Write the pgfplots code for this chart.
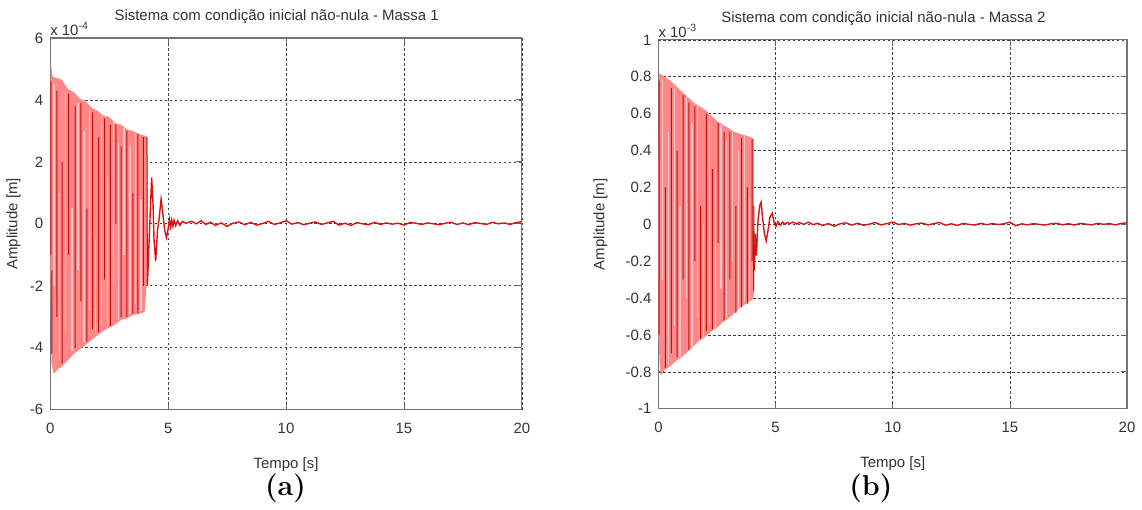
\documentclass[border=0pt]{standalone}
\usepackage{fontspec}
\usepackage{pgfplots}
\pgfplotsset{compat=1.18}
\newfontfamily\arial{Liberation Sans}
\definecolor{envred}{RGB}{255,135,135}
\definecolor{lightstreak}{RGB}{255,195,195}
\definecolor{streak}{RGB}{190,15,15}
\definecolor{noisered}{RGB}{215,20,20}

\pgfplotsset{
  matlab/.style={
    scale only axis,
    anchor=south west,
    xmin=0, xmax=20,
    xtick={0,5,10,15,20},
    tick align=inside,
    major tick length=3pt,
    grid=major,
    unbounded coords=jump,
    major grid style={black!75, line width=0.35pt, dash pattern=on 1.2pt off 1.3pt},
    axis line style={black!55, line width=0.6pt},
    every tick/.style={black!60, line width=0.4pt},
    tick label style={font=\arial\fontsize{7.5}{9}\selectfont, text=black!80},
    xticklabel style={yshift=-3pt},
    /pgf/number format/assume math mode=true,
    label style={font=\arial\fontsize{7.5}{9}\selectfont, text=black!80},
    title style={font=\arial\fontsize{7.5}{9}\selectfont, text=black!80, at={(0.48,1)}, anchor=south, yshift=-2.5pt},
    xlabel style={at={(axis description cs:0.5,0)}, anchor=center, yshift=-27.5pt},
    xlabel={Tempo [s]},
    ylabel={Amplitude [m]},
  }
}

\begin{document}
\begin{tikzpicture}[x=1pt,y=1pt]
\path (0,0) rectangle (571,254);

% ---------- Massa 1 ----------
\begin{axis}[matlab,
  at={(23.5pt,48.5pt)}, width=236.5pt, height=186.5pt,
  ymin=-6, ymax=6, ytick={-6,-4,...,6},
  ylabel style={at={(axis description cs:-0.048,0.5)}, anchor=south},
  title={Sistema com condição inicial não-nula - Massa 1},
  after end axis/.append code={
    \node[anchor=south west, font=\arial\fontsize{7.5}{9}\selectfont, text=black!80, inner sep=1pt]
      at (rel axis cs:-0.005,1) {x 10\textsuperscript{-4}};
  },
]
% envelope of the fast oscillation
\addplot[draw=none, fill=envred] coordinates {
 (0.00,1.5) (0.02,5.15) (0.10,4.75) (0.30,4.70) (0.50,4.65) (0.75,4.35) (1.00,4.25)
 (1.25,4.05) (1.50,3.95) (1.75,3.75) (2.00,3.65) (2.25,3.50) (2.50,3.45) (2.75,3.25)
 (3.00,3.20) (3.25,3.05) (3.50,3.00) (3.75,2.90) (4.00,2.85) (4.12,2.80)
 (4.13,-2.0) (4.08,-2.0) (4.00,-2.85) (3.75,-2.90) (3.50,-2.95) (3.25,-3.05)
 (3.00,-3.10) (2.75,-3.25) (2.50,-3.35) (2.25,-3.45) (2.00,-3.60) (1.75,-3.75)
 (1.50,-3.90) (1.25,-4.05) (1.00,-4.20) (0.75,-4.40) (0.50,-4.60) (0.30,-4.70)
 (0.15,-4.85) (0.05,-4.50) (0.00,-1.0)
} -- cycle;
% lighter gaps inside the band
\addplot[lightstreak, line width=0.6pt] coordinates {
 (0.16,4.5) (0.16,-2.0) (0.16,nan)
 (0.40,-4.4) (0.40,1.0) (0.40,nan)
 (0.65,4.3) (0.65,-3.5) (0.65,nan)
 (0.92,-4.1) (0.92,0.5) (0.92,nan)
 (1.18,3.9) (1.18,-1.5) (1.18,nan)
 (1.43,-3.8) (1.43,3.0) (1.43,nan)
 (1.68,3.7) (1.68,-2.8) (1.68,nan)
 (1.93,-3.5) (1.93,-0.5) (1.93,nan)
 (2.18,3.5) (2.18,-3.2) (2.18,nan)
 (2.43,-3.3) (2.43,1.5) (2.43,nan)
 (2.67,3.3) (2.67,-2.0) (2.67,nan)
 (2.90,-3.1) (2.90,2.6) (2.90,nan)
 (3.13,3.1) (3.13,-1.0) (3.13,nan)
 (3.38,-2.9) (3.38,2.5) (3.38,nan)
 (3.62,2.9) (3.62,-2.6) (3.62,nan)
 (3.85,-2.8) (3.85,0.8)
};
% dark streaks
\addplot[streak, line width=0.5pt] coordinates {
 (0.03,4.6) (0.03,-1.0) (0.03,nan)
 (0.07,-1.5) (0.07,-4.2) (0.07,nan)
 (0.28,4.3) (0.28,-3.0) (0.28,nan)
 (0.50,-4.5) (0.50,2.0) (0.50,nan)
 (0.78,4.2) (0.78,-1.0) (0.78,nan)
 (1.05,-4.0) (1.05,3.8) (1.05,nan)
 (1.30,3.9) (1.30,-2.5) (1.30,nan)
 (1.55,-3.8) (1.55,0.5) (1.55,nan)
 (1.80,3.6) (1.80,-3.4) (1.80,nan)
 (2.05,-3.5) (2.05,2.8) (2.05,nan)
 (2.30,3.4) (2.30,-1.8) (2.30,nan)
 (2.55,-3.3) (2.55,3.2) (2.55,nan)
 (2.78,3.2) (2.78,0.0) (2.78,nan)
 (3.00,-3.0) (3.00,2.5) (3.00,nan)
 (3.25,3.0) (3.25,-3.0) (3.25,nan)
 (3.50,-2.9) (3.50,1.0) (3.50,nan)
 (3.72,2.9) (3.72,-2.9) (3.72,nan)
 (3.95,2.8) (3.95,-2.0) (3.95,nan)
 (4.10,2.8) (4.12,-2.0)
};
% decay and residual
\addplot[noisered, line width=0.7pt] coordinates {
 (4.12,-2.0) (4.20,-0.4) (4.30,1.5) (4.36,0.6) (4.40,-0.5) (4.47,-1.2) (4.55,-0.2)
 (4.62,0.2) (4.70,0.8) (4.78,0.3) (4.85,-0.2) (4.93,-0.45) (5.00,-0.15) (5.05,0.15)
 (5.10,-0.1) (5.15,0.12) (5.20,-0.08) (5.25,0.12) (5.32,-0.06) (5.40,0.1) (5.50,-0.05)
 (5.60,0.08) (5.75,0.02) (5.90,0.06) (6.00,0.08) (6.20,0.0) (6.40,0.1) (6.60,-0.02)
 (6.80,0.05) (7.00,-0.05) (7.25,0.03) (7.50,-0.08) (7.75,0.02) (8.00,0.06) (8.25,-0.03)
 (8.50,0.05) (8.75,-0.04) (9.00,0.01) (9.25,0.08) (9.50,-0.02) (9.75,0.03) (10.00,0.1)
 (10.25,-0.01) (10.50,0.04) (10.75,-0.03) (11.00,0.02) (11.25,0.06) (11.50,-0.02)
 (11.75,0.03) (12.00,0.08) (12.25,-0.04) (12.50,0.02) (12.75,-0.05) (13.00,0.04)
 (13.25,0.0) (13.50,-0.03) (13.75,0.05) (14.00,-0.02) (14.25,0.03) (14.50,-0.01)
 (14.75,0.02) (15.00,-0.04) (15.25,0.04) (15.50,0.02) (15.75,-0.02) (16.00,0.03)
 (16.25,0.0) (16.50,-0.03) (16.75,0.02) (17.00,0.05) (17.25,-0.02) (17.50,0.03)
 (17.75,-0.03) (18.00,0.04) (18.25,0.01) (18.50,-0.02) (18.75,0.05) (19.00,0.0)
 (19.25,0.03) (19.50,-0.02) (19.75,0.04) (20.00,0.07)
};
\end{axis}

% ---------- Massa 2 ----------
\begin{axis}[matlab,
  at={(328.5pt,49pt)}, width=235pt, height=185pt,
  ymin=-1, ymax=1, ytick={-1,-0.8,...,1.01},
  yticklabels={-1,-0.8,-0.6,-0.4,-0.2,0,0.2,0.4,0.6,0.8,1},
  ylabel style={at={(axis description cs:-0.094,0.5)}, anchor=south},
  title={Sistema com condição inicial não-nula - Massa 2},
  after end axis/.append code={
    \node[anchor=south west, font=\arial\fontsize{7.5}{9}\selectfont, text=black!80, inner sep=1pt]
      at (rel axis cs:-0.005,1) {x 10\textsuperscript{-3}};
  },
]
\addplot[draw=none, fill=envred] coordinates {
 (0.00,0.30) (0.02,0.82) (0.25,0.80) (0.50,0.78) (0.75,0.75) (1.00,0.72) (1.25,0.69)
 (1.50,0.66) (1.75,0.64) (2.00,0.62) (2.25,0.59) (2.50,0.56) (2.75,0.54) (3.00,0.52)
 (3.25,0.50) (3.50,0.49) (3.75,0.48) (4.00,0.47) (4.07,0.46)
 (4.08,-0.38) (4.00,-0.41) (3.75,-0.43) (3.50,-0.45) (3.25,-0.48) (3.00,-0.51)
 (2.75,-0.53) (2.50,-0.56) (2.25,-0.58) (2.00,-0.61) (1.75,-0.63) (1.50,-0.66)
 (1.25,-0.69) (1.00,-0.72) (0.75,-0.74) (0.50,-0.77) (0.25,-0.79) (0.10,-0.82)
 (0.05,-0.75) (0.00,-0.60)
} -- cycle;
\addplot[lightstreak, line width=0.6pt] coordinates {
 (0.16,0.78) (0.16,-0.30) (0.16,nan)
 (0.42,-0.76) (0.42,0.50) (0.42,nan)
 (0.67,0.74) (0.67,-0.55) (0.67,nan)
 (0.92,-0.72) (0.92,0.10) (0.92,nan)
 (1.18,0.69) (1.18,-0.40) (1.18,nan)
 (1.43,-0.66) (1.43,0.55) (1.43,nan)
 (1.68,0.64) (1.68,-0.50) (1.68,nan)
 (1.93,-0.61) (1.93,0.00) (1.93,nan)
 (2.18,0.59) (2.18,-0.55) (2.18,nan)
 (2.43,-0.56) (2.43,0.30) (2.43,nan)
 (2.67,0.54) (2.67,-0.35) (2.67,nan)
 (2.92,-0.51) (2.92,0.45) (2.92,nan)
 (3.17,0.50) (3.17,-0.20) (3.17,nan)
 (3.42,-0.46) (3.42,0.40) (3.42,nan)
 (3.67,0.48) (3.67,-0.42) (3.67,nan)
 (3.90,-0.42) (3.90,0.15)
};
\addplot[streak, line width=0.5pt] coordinates {
 (0.03,0.78) (0.03,-0.60) (0.03,nan)
 (0.30,-0.78) (0.30,0.20) (0.30,nan)
 (0.55,0.74) (0.55,-0.70) (0.55,nan)
 (0.80,-0.72) (0.80,0.40) (0.80,nan)
 (1.05,0.70) (1.05,-0.30) (1.05,nan)
 (1.30,-0.68) (1.30,0.66) (1.30,nan)
 (1.55,0.64) (1.55,-0.20) (1.55,nan)
 (1.80,-0.62) (1.80,0.10) (1.80,nan)
 (2.05,0.60) (2.05,-0.58) (2.05,nan)
 (2.30,-0.57) (2.30,0.30) (2.30,nan)
 (2.55,0.55) (2.55,-0.10) (2.55,nan)
 (2.80,-0.52) (2.80,0.50) (2.80,nan)
 (3.05,0.50) (3.05,-0.30) (3.05,nan)
 (3.30,-0.48) (3.30,0.10) (3.30,nan)
 (3.55,0.47) (3.55,-0.45) (3.55,nan)
 (3.80,-0.43) (3.80,0.20) (3.80,nan)
 (4.00,0.46) (4.00,-0.20) (4.00,nan)
 (4.06,-0.36) (4.07,0.10) (4.09,-0.25)
};
\addplot[noisered, line width=0.7pt] coordinates {
 (4.09,-0.25) (4.13,-0.05) (4.18,-0.17) (4.25,0.02) (4.32,0.10) (4.38,0.12) (4.45,0.03)
 (4.52,-0.05) (4.60,-0.09) (4.68,-0.03) (4.76,0.04) (4.86,0.06) (4.95,0.0) (5.02,-0.01)
 (5.10,0.015) (5.20,-0.005) (5.30,0.012) (5.40,0.0) (5.50,0.01) (5.60,0.005) (5.75,0.012)
 (5.90,0.002) (6.00,0.01) (6.20,0.0) (6.40,0.012) (6.60,-0.002) (6.80,0.006) (7.00,-0.006)
 (7.25,0.004) (7.50,-0.01) (7.75,0.003) (8.00,0.008) (8.25,-0.004) (8.50,0.006)
 (8.75,-0.005) (9.00,0.001) (9.25,0.01) (9.50,-0.003) (9.75,0.004) (10.00,0.012)
 (10.25,-0.001) (10.50,0.005) (10.75,-0.004) (11.00,0.003) (11.25,0.007) (11.50,-0.003)
 (11.75,0.004) (12.00,0.01) (12.25,-0.005) (12.50,0.003) (12.75,-0.006) (13.00,0.005)
 (13.25,0.0) (13.50,-0.004) (13.75,0.006) (14.00,-0.002) (14.25,0.004) (14.50,-0.001)
 (14.75,0.003) (15.00,0.012) (15.25,-0.008) (15.50,0.003) (15.75,-0.003) (16.00,0.004)
 (16.25,0.0) (16.50,-0.004) (16.75,0.003) (17.00,0.006) (17.25,-0.003) (17.50,0.004)
 (17.75,-0.004) (18.00,0.005) (18.25,0.001) (18.50,-0.003) (18.75,0.006) (19.00,0.0)
 (19.25,0.004) (19.50,-0.003) (19.75,0.005) (20.00,0.008)
};
\end{axis}

\node[font=\Large\bfseries] at (141.5,9) {(a)};
\node[font=\Large\bfseries] at (435,9) {(b)};
\end{tikzpicture}
\end{document}
